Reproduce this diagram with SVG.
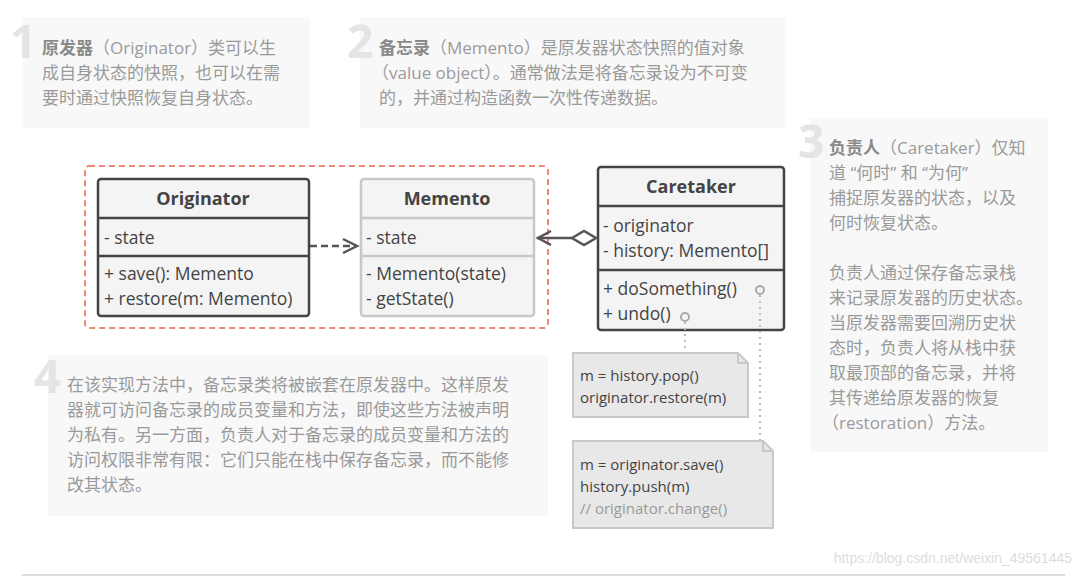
<svg xmlns="http://www.w3.org/2000/svg" width="1080" height="577" viewBox="0 0 1080 577">
<style>
.panel{fill:#f8f8f8}
.num{font-family:"Open Sans","Liberation Sans",sans-serif;font-size:46px;font-weight:bold;fill:#e4e4e4}
.t{font-family:"Open Sans","Noto Sans CJK SC",sans-serif;font-size:17px;fill:#9a9a9a}
.b{font-weight:bold;fill:#8a8a8a}
.box{fill:#f4f4f4;stroke:#444;stroke-width:2.5}
.boxl{fill:#f4f4f4;stroke:#c8c8c8;stroke-width:2.5}
.sep{stroke:#444;stroke-width:2.5}
.sepl{stroke:#c8c8c8;stroke-width:2.5}
.h{font-family:"Open Sans","Liberation Sans",sans-serif;font-size:18px;font-weight:bold;fill:#444;text-anchor:middle}
.m{font-family:"Open Sans","Liberation Sans",sans-serif;font-size:17.5px;fill:#444}
.note{fill:#e8e8e8;stroke:#c8c8c8;stroke-width:2}
.n{font-family:"Open Sans","Liberation Sans",sans-serif;font-size:15px;fill:#444}
.c{fill:#999}
</style>
<rect width="1080" height="577" fill="#fff"/>
<g id="panel1"><rect class="panel" x="23" y="17" width="287" height="111"/>
<text class="num" x="10" y="58">1</text>
<text class="t" x="42" y="54"><tspan class="b">原发器</tspan>（Originator）类可以生</text>
<text class="t" x="42" y="79">成自身状态的快照，也可以在需</text>
<text class="t" x="42" y="104">要时通过快照恢复自身状态。</text></g>
<g id="panel2"><rect class="panel" x="360" y="17" width="425" height="111"/>
<text class="num" x="347" y="58">2</text>
<text class="t" x="379" y="54"><tspan class="b">备忘录</tspan>（Memento）是原发器状态快照的值对象</text>
<text class="t" x="372" y="79">（value object）。通常做法是将备忘录设为不可变</text>
<text class="t" x="379" y="104">的，并通过构造函数一次性传递数据。</text></g>
<g id="panel3"><rect class="panel" x="810" y="118" width="238" height="334"/>
<text class="num" x="798" y="158">3</text>
<text class="t" x="829" y="154"><tspan class="b">负责人</tspan>（Caretaker）仅知</text>
<text class="t" x="829" y="179">道 “何时” 和 “为何”</text>
<text class="t" x="829" y="204">捕捉原发器的状态，以及</text>
<text class="t" x="829" y="229">何时恢复状态。</text>
<text class="t" x="829" y="279">负责人通过保存备忘录栈</text>
<text class="t" x="829" y="304">来记录原发器的历史状态。</text>
<text class="t" x="829" y="329">当原发器需要回溯历史状</text>
<text class="t" x="829" y="354">态时，负责人将从栈中获</text>
<text class="t" x="829" y="379">取最顶部的备忘录，并将</text>
<text class="t" x="829" y="404">其传递给原发器的恢复</text>
<text class="t" x="822" y="429">（restoration）方法。</text></g>
<g id="panel4"><rect class="panel" x="48" y="355" width="500" height="161"/>
<text class="num" x="34" y="393">4</text>
<text class="t" x="67" y="391">在该实现方法中，备忘录类将被嵌套在原发器中。这样原发</text>
<text class="t" x="67" y="416">器就可访问备忘录的成员变量和方法，即使这些方法被声明</text>
<text class="t" x="67" y="441">为私有。另一方面，负责人对于备忘录的成员变量和方法的</text>
<text class="t" x="67" y="466">访问权限非常有限：它们只能在栈中保存备忘录，而不能修</text>
<text class="t" x="67" y="491">改其状态。</text></g>
<rect x="85" y="166" width="463" height="162" rx="4" fill="none" stroke="#f08878" stroke-width="2" stroke-dasharray="6,4"/>
<g id="originator"><rect class="box" x="98" y="179" width="211" height="137" rx="3"/>
<line class="sep" x1="98" y1="218" x2="309" y2="218"/><line class="sep" x1="98" y1="256" x2="309" y2="256"/>
<text class="h" x="203" y="205">Originator</text>
<text class="m" x="104" y="244">- state</text>
<text class="m" x="104" y="280">+ save(): Memento</text>
<text class="m" x="104" y="305">+ restore(m: Memento)</text></g>
<g id="memento"><rect class="boxl" x="361" y="179" width="173" height="137" rx="3"/>
<line class="sepl" x1="361" y1="218" x2="534" y2="218"/><line class="sepl" x1="361" y1="256" x2="534" y2="256"/>
<text class="h" x="447" y="205">Memento</text>
<text class="m" x="366" y="244">- state</text>
<text class="m" x="366" y="280">- Memento(state)</text>
<text class="m" x="366" y="305">- getState()</text></g>
<g id="caretaker"><rect class="box" x="598" y="167" width="186" height="163" rx="3"/>
<line class="sep" x1="598" y1="206" x2="784" y2="206"/><line class="sep" x1="598" y1="270" x2="784" y2="270"/>
<text class="h" x="691" y="193">Caretaker</text>
<text class="m" x="603" y="232">- originator</text>
<text class="m" x="603" y="257">- history: Memento[]</text>
<text class="m" x="603" y="295">+ doSomething()</text>
<text class="m" x="603" y="320">+ undo()</text></g>
<g id="note1"><path class="note" d="M573 353H738L748 363V417H573Z"/><path d="M738 353V363H748" fill="none" stroke="#c8c8c8" stroke-width="2"/>
<text class="n" x="580" y="381">m = history.pop()</text>
<text class="n" x="580" y="403">originator.restore(m)</text></g>
<g id="note2"><path class="note" d="M573 441H763L773 451V528H573Z"/><path d="M763 441V451H773" fill="none" stroke="#c8c8c8" stroke-width="2"/>
<text class="n" x="580" y="470">m = originator.save()</text>
<text class="n" x="580" y="492">history.push(m)</text>
<text class="n c" x="580" y="514">// originator.change()</text></g>
<g id="connectors" fill="none">
<path d="M310 246H355" stroke="#555" stroke-width="2.5" stroke-dasharray="7,4"/>
<path d="M343 239L357 246L343 253" stroke="#555" stroke-width="2.5"/>
<path d="M537 238H572" stroke="#555" stroke-width="2.5"/>
<path d="M551 231L538 238L551 245" stroke="#555" stroke-width="2.5"/>
<path d="M572 238L584 231L596 238L584 245Z" fill="#fff" stroke="#555" stroke-width="2.5"/>
<circle cx="760" cy="290" r="4" stroke="#aaa" stroke-width="2"/>
<circle cx="685" cy="317" r="4" stroke="#aaa" stroke-width="2"/>
<path d="M685 322V352" stroke="#bbb" stroke-width="2" stroke-dasharray="2,4"/>
<path d="M760 295V440" stroke="#bbb" stroke-width="2" stroke-dasharray="2,4"/>
</g>
<line x1="22" y1="575" x2="1065" y2="575" stroke="#bbb" stroke-width="1"/>
<text x="1072" y="563" text-anchor="end" font-family="Liberation Sans,sans-serif" font-size="14" fill="#ddd">https://blog.csdn.net/weixin_49561445</text>
</svg>
